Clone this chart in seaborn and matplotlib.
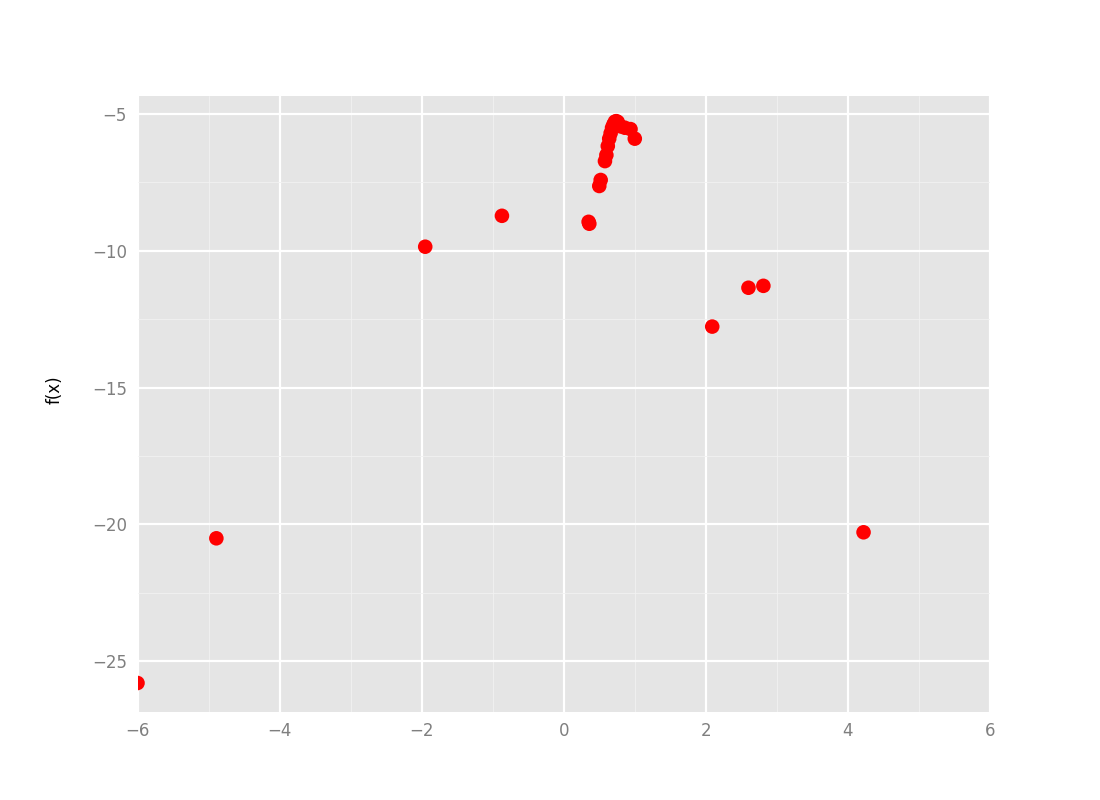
import numpy as np
import pandas as pd
import seaborn as sns
import matplotlib.pyplot as plt
from matplotlib.ticker import MultipleLocator

# Pontos
x_vals = [-6.0, -4.89, -1.95, -0.87, 0.35, 0.36, 0.50, 0.52, 0.58, 0.60,
          0.62, 0.64, 0.66, 0.68, 0.70, 0.72, 0.74, 0.76, 0.80, 0.86,
          0.94, 1.00, 2.09, 2.60, 2.81, 4.22]
y_vals = [-25.8, -20.51, -9.85, -8.72, -8.94, -9.01, -7.63, -7.41, -6.72, -6.50,
          -6.17, -5.90, -5.70, -5.50, -5.38, -5.28, -5.26, -5.29, -5.45, -5.50,
          -5.55, -5.90, -12.77, -11.35, -11.28, -20.29]

df = pd.DataFrame({"x": x_vals, "fx": y_vals})

sns.set_style("dark", {"axes.facecolor": "#e5e5e5"})
fig, ax = plt.subplots(figsize=(11, 8), dpi=100)
fig.subplots_adjust(left=0.125, right=0.9, top=0.88, bottom=0.11)

sns.scatterplot(data=df, x="x", y="fx", ax=ax, color="red", s=110,
                edgecolor="none", zorder=3)

ax.set_xlim(-6, 6)
ax.set_ylim(-26.86, -4.34)
ax.xaxis.set_major_locator(MultipleLocator(2))
ax.xaxis.set_minor_locator(MultipleLocator(1))
ax.yaxis.set_major_locator(MultipleLocator(5))
ax.yaxis.set_minor_locator(MultipleLocator(2.5))
ax.grid(which="major", color="white", linewidth=1.6)
ax.grid(which="minor", color="#f2f2f2", linewidth=0.6)
ax.set_axisbelow(True)
for s in ax.spines.values():
    s.set_visible(False)

ax.tick_params(which="major", colors="#7f7f7f", labelsize=12, length=4,
               width=1, labelcolor="#7f7f7f")
ax.tick_params(which="minor", length=0)
ax.set_xlabel("")
ax.set_ylabel("f(x)", fontsize=12, color="black")
ax.yaxis.set_label_coords(-0.087, 0.523)

fig.savefig("out.png", dpi=100)
